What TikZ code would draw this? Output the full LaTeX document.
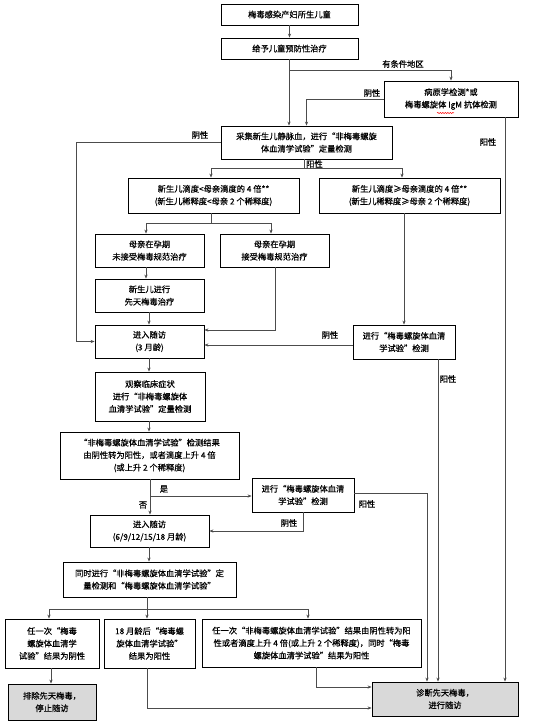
\documentclass[tikz,border=0pt]{standalone}
\usepackage{fontspec}
\setmainfont{Noto Sans CJK SC}[FakeBold=0.5]
\usetikzlibrary{arrows.meta,decorations.pathmorphing}
\begin{document}
\begin{tikzpicture}[x=1bp,y=-1bp,
  box/.style={draw=black,line width=0.8bp,inner sep=0pt,align=center,font=\fontsize{8.3}{12.5}\selectfont},
  gbox/.style={box,fill=black!15},
  conn/.style={draw=black!70,line width=0.9bp,-{Stealth[length=4bp,width=3.2bp]}},
  plain/.style={draw=black!70,line width=0.9bp},
  lbl/.style={inner sep=0pt,font=\fontsize{8.3}{10}\selectfont}]
\useasboundingbox (0,0) rectangle (555,727);
\fill[white] (0,0) rectangle (555,727);
% boxes
\node[box,minimum width=137bp,minimum height=21bp] (n1) at (289.5,14.5) {梅毒感染产妇所生儿童};
\node[box,minimum width=137bp,minimum height=21bp] (n2) at (289.5,48.5) {给予儿童预防性治疗};
\node[box,minimum width=134bp,minimum height=36bp] (n3) at (451,99) {病原学检测*或\\梅毒螺旋体 IgM 抗体检测};
\node[box,minimum width=171bp,minimum height=33bp] (n4) at (306.5,142.5) {采集新生儿静脉血，进行“非梅毒螺旋\\体血清学试验”定量检测};
\node[box,minimum width=171bp,minimum height=35bp] (n5a) at (213.5,195.5) {新生儿滴度<母亲滴度的 4 倍**\\(新生儿稀释度<母亲 2 个稀释度)};
\node[box,minimum width=181bp,minimum height=35bp] (n5b) at (409.5,195.5) {新生儿滴度≥母亲滴度的 4 倍**\\(新生儿稀释度≥母亲 2 个稀释度)};
\node[box,minimum width=109bp,minimum height=33bp] (n6a) at (149.5,250.5) {母亲在孕期\\未接受梅毒规范治疗};
\node[box,minimum width=109bp,minimum height=33bp] (n6b) at (274.5,250.5) {母亲在孕期\\接受梅毒规范治疗};
\node[box,minimum width=109bp,minimum height=33bp] (n7) at (149.5,295.5) {新生儿进行\\先天梅毒治疗};
\node[box,minimum width=109bp,minimum height=33bp] (n8) at (149.5,341.5) {进入随访\\(3 月龄)};
\node[box,minimum width=102bp,minimum height=34bp] (n9) at (404,342) {进行“梅毒螺旋体血清\\学试验”检测};
\node[box,minimum width=110bp,minimum height=49bp] (n10) at (150,396.5) {观察临床症状\\进行“非梅毒螺旋体\\血清学试验”定量检测};
\node[box,minimum width=179bp,minimum height=47bp] (n11) at (149.5,455.5) {“非梅毒螺旋体血清学试验”检测结果\\由阴性转为阳性，或者滴度上升 4 倍\\(或上升 2 个稀释度)};
\node[box,minimum width=102bp,minimum height=34bp] (n12) at (303,495) {进行“梅毒螺旋体血清\\学试验”检测};
\node[box,minimum width=119bp,minimum height=32bp] (n13) at (149.5,531) {进入随访\\(6/9/12/15/18 月龄)};
\node[box,minimum width=173bp,minimum height=35bp] (n14) at (149.5,579.5) {同时进行“非梅毒螺旋体血清学试验”定\\量检测和“梅毒螺旋体血清学试验”};
\node[box,minimum width=94bp,minimum height=49bp] (n15a) at (52,643.5) {任一次“梅毒\\螺旋体血清学\\试验”结果为阴性};
\node[box,minimum width=91bp,minimum height=49bp] (n15b) at (149.5,643.5) {18 月龄后“梅毒螺\\旋体血清学试验”\\结果为阳性};
\node[box,minimum width=219bp,minimum height=48bp] (n15c) at (311.5,643) {任一次“非梅毒螺旋体血清学试验”结果由阴性转为阳\\性或者滴度上升 4 倍(或上升 2 个稀释度)，同时“梅毒\\螺旋体血清学试验”结果为阳性};
\node[gbox,minimum width=88bp,minimum height=36bp] (n16) at (52,702) {排除先天梅毒，\\停止随访};
\node[gbox,minimum width=146bp,minimum height=34bp] (n17) at (445,699) {诊断先天梅毒，\\进行随访};
% spell-check squiggle
\draw[red,line width=0.5bp,decorate,decoration={snake,amplitude=0.6bp,segment length=2.5bp}] (437,113) -- (454,113);
% coordinates
\coordinate (b2) at (289,70);
\coordinate (j4) at (304,168);
\coordinate (j5) at (211,223);
\coordinate (j11) at (150,496);
\coordinate (j14) at (147,609);
% connectors
\draw[conn] (n1) -- (n2);
\draw[conn] (n2.south -| b2) -- (n4.north -| b2);
\draw[conn] (b2) -| (n3.north);
\node[lbl] (t1) at (403,64) {有条件地区};
\draw[conn] (n3.west) -| (n4.north);
\node[lbl] (t2) at (372,93) {阴性};
\draw[conn] (n3.south -| 505,0) -- (n17.north -| 505,0);
\node[lbl] (t3) at (488,142) {阳性};
\draw[conn] (n4.west) -- (76,142.5) |- (n8.west);
\node[lbl] (t4) at (200,135) {阴性};
\draw[plain] (n4.south -| j4) -- (j4);
\node[lbl,anchor=west] (t5) at (306,164) {阳性};
\draw[plain] (211,168) -- (402,168);
\draw[conn] (211,168) -- (n5a.north -| 211,0);
\draw[conn] (402,168) -- (n5b.north -| 402,0);
\draw[plain] (n5a.south -| j5) -- (j5);
\draw[plain] (146,223) -- (271,223);
\draw[conn] (146,223) -- (n6a.north -| 146,0);
\draw[conn] (271,223) -- (n6b.north -| 271,0);
\draw[conn] (n6a.south -| 146,0) -- (n7.north -| 146,0);
\draw[conn] (n7.south -| 149,0) -- (n8.north -| 149,0);
\draw[conn] (n6b.south -| 275,0) |- (n8.east |- 0,330);
\draw[conn] (n5b.south -| 404,0) -- (n9.north -| 404,0);
\draw[conn] (n9.west |- 0,345) -- (n8.east |- 0,345);
\node[lbl] (t6) at (330,335) {阴性};
\draw[conn] (n9.south -| 438,0) -- (n17.north -| 438,0);
\node[lbl] (t7) at (448,379) {阳性};
\draw[conn] (n8.south -| 149,0) -- (n10.north -| 149,0);
\draw[conn] (n10.south -| 149,0) -- (n11.north -| 149,0);
\draw[conn] (n11.south -| j11) -- (n13.north -| j11);
\draw[conn] (j11) -- (n12.west |- j11);
\node[lbl] (t8) at (164,489) {是};
\node[lbl] (t9) at (143,505) {否};
\draw[conn] (n12.south -| 303,0) |- (n13.east |- 0,531);
\node[lbl] (t10) at (289,523) {阴性};
\draw[conn] (n12.east |- 0,493) -| (n17.north -| 427,0);
\node[lbl] (t11) at (367,504) {阳性};
\draw[conn] (n13.south -| 149,0) -- (n14.north -| 149,0);
\draw[plain] (n14.south -| j14) -- (j14);
\draw[plain] (49,609) -- (308,609);
\draw[conn] (49,609) -- (n15a.north -| 49,0);
\draw[conn] (j14) -- (n15b.north -| j14);
\draw[conn] (308,609) -- (n15c.north -| 308,0);
\draw[conn] (n15a.south -| 51,0) -- (n16.north -| 51,0);
\draw[conn] (n15c.south -| 316,0) |- (n17.west |- 0,687);
\draw[conn] (n15b.south -| 147,0) |- (n17.west |- 0,708);
\end{tikzpicture}
\end{document}
